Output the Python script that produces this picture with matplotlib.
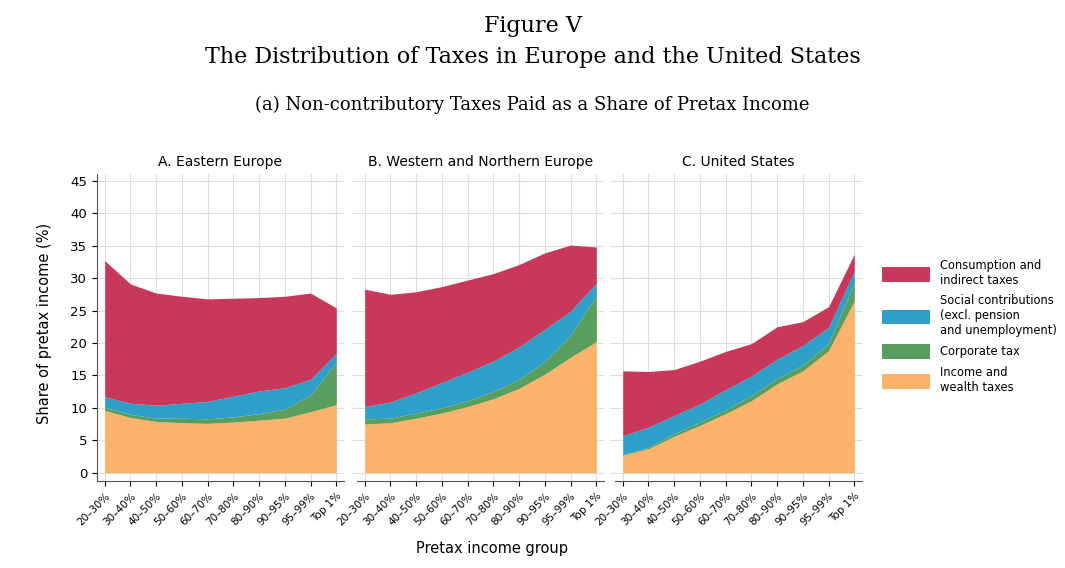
import numpy as np
import matplotlib.pyplot as plt

groups = ['20–30%', '30–40%', '40–50%', '50–60%', '60–70%', '70–80%',
          '80–90%', '90–95%', '95–99%', 'Top 1%']

# cumulative stack tops: income, +corporate, +social, total
east_income = [9.6, 8.5, 7.9, 7.7, 7.6, 7.8, 8.1, 8.4, 9.4, 10.5]
east_corp = [10.1, 9.0, 8.4, 8.4, 8.3, 8.6, 9.1, 9.8, 12.0, 17.0]
east_social = [11.7, 10.7, 10.4, 10.7, 11.0, 11.8, 12.6, 13.1, 14.4, 18.4]
east_total = [32.7, 29.1, 27.7, 27.2, 26.8, 26.9, 27.0, 27.2, 27.7, 25.4]

west_income = [7.5, 7.7, 8.4, 9.2, 10.2, 11.4, 13.0, 15.2, 17.8, 20.2]
west_corp = [8.3, 8.4, 9.2, 10.0, 11.1, 12.5, 14.4, 17.1, 21.2, 27.3]
west_social = [10.2, 10.9, 12.3, 13.9, 15.5, 17.2, 19.4, 22.1, 24.9, 29.2]
west_total = [28.3, 27.5, 27.9, 28.7, 29.7, 30.7, 32.1, 33.9, 35.1, 34.8]

us_income = [2.7, 3.7, 5.6, 7.3, 9.1, 11.1, 13.7, 15.7, 18.8, 26.5]
us_corp = [2.8, 3.9, 6.0, 7.8, 9.7, 11.9, 14.5, 16.6, 19.9, 29.3]
us_social = [5.7, 7.0, 8.8, 10.6, 12.8, 14.9, 17.5, 19.6, 22.4, 31.1]
us_total = [15.7, 15.6, 15.9, 17.2, 18.7, 19.9, 22.5, 23.3, 25.6, 33.7]

panels = [
    ('A. Eastern Europe', east_income, east_corp, east_social, east_total),
    ('B. Western and Northern Europe', west_income, west_corp, west_social, west_total),
    ('C. United States', us_income, us_corp, us_social, us_total),
]

c_cons = '#C8385A'
c_soc = '#2E9FC9'
c_corp = '#5A9E5E'
c_inc = '#FBB36C'

fig = plt.figure(figsize=(10.65, 5.68), dpi=100)
fig.text(0.5, 0.955, 'Figure V', ha='center', va='center', family='DejaVu Serif', fontsize=16)
fig.text(0.5, 0.90, 'The Distribution of Taxes in Europe and the United States',
         ha='center', va='center', family='DejaVu Serif', fontsize=16)
fig.text(0.5, 0.815, '(a) Non-contributory Taxes Paid as a Share of Pretax Income',
         ha='center', va='center', family='DejaVu Serif', fontsize=13)

lefts = [97, 357, 615]
x = np.arange(len(groups))
for i, (title, inc, corp, soc, tot) in enumerate(panels):
    ax = fig.add_axes([lefts[i] / 1065, 0.153, 247 / 1065, 0.54])
    ax.fill_between(x, 0, inc, color=c_inc, lw=0, label='Income and\nwealth taxes')
    ax.fill_between(x, inc, corp, color=c_corp, lw=0, label='Corporate tax')
    ax.fill_between(x, corp, soc, color=c_soc, lw=0,
                    label='Social contributions\n(excl. pension\nand unemployment)')
    ax.fill_between(x, soc, tot, color=c_cons, lw=0, label='Consumption and\nindirect taxes')
    ax.set_xlim(-0.3, 9.3)
    ax.set_ylim(-1.3, 46)
    ax.set_yticks(range(0, 50, 5))
    ax.set_xticks(x)
    ax.set_xticklabels(groups, rotation=45, ha='right', rotation_mode='anchor', fontsize=7.5)
    ax.grid(True, color='#dddddd', lw=0.8)
    ax.set_axisbelow(True)
    ax.set_title(title, fontsize=10, pad=6)
    for s in ['top', 'right']:
        ax.spines[s].set_visible(False)
    ax.spines['bottom'].set_color('#555555')
    if i == 0:
        ax.spines['left'].set_color('#555555')
        ax.tick_params(axis='y', labelsize=9.5)
    else:
        ax.spines['left'].set_visible(False)
        ax.tick_params(axis='y', labelleft=False, color='#dddddd')
    if i == 2:
        h, l = ax.get_legend_handles_labels()
        fig.legend(h[::-1], l[::-1], loc='center left', bbox_to_anchor=(0.818, 0.425),
                   frameon=False, fontsize=8.3, handlelength=4.2, handleheight=1.6,
                   labelspacing=0.6, handletextpad=0.9)

fig.text(0.042, 0.43, 'Share of pretax income (%)', rotation=90, ha='center', va='center', fontsize=10.5)
fig.text(0.462, 0.035, 'Pretax income group', ha='center', va='center', fontsize=10.5)

fig.savefig('out.png', dpi=100)
